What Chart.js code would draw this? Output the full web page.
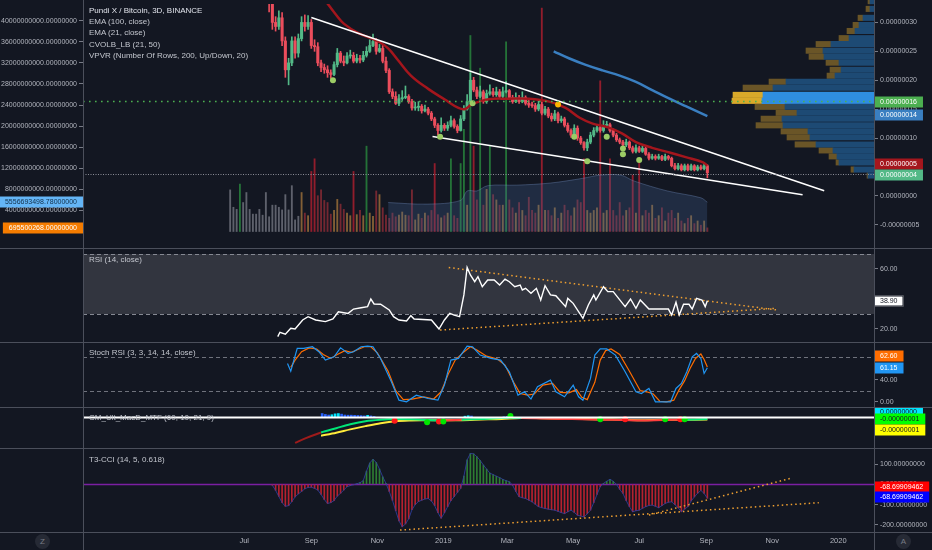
<!DOCTYPE html>
<html><head><meta charset="utf-8">
<script src="https://cdn.jsdelivr.net/npm/chart.js@4.4.1/dist/chart.umd.min.js"></script>
<style>
html,body{margin:0;padding:0;background:#131722;}
body{width:932px;height:550px;position:relative;overflow:hidden;font-family:"Liberation Sans",Arial,sans-serif;}
canvas{position:absolute;left:0;}
.ln{position:absolute;background:#4b4f5b;}
.txt{position:absolute;left:89px;font-size:8px;line-height:10px;color:#c3c6ce;white-space:nowrap;}
.btn{position:absolute;width:15px;height:15px;border-radius:50%;background:#262a35;color:#787b86;font-size:8px;line-height:15px;text-align:center;}
</style></head><body>
<canvas id="cMain" width="932" height="248" style="top:0"></canvas>
<canvas id="cVp" width="932" height="248" style="top:0"></canvas>
<canvas id="cRsi" width="932" height="93" style="top:249px"></canvas>
<canvas id="cSto" width="932" height="64" style="top:343px"></canvas>
<canvas id="cMacd" width="932" height="40" style="top:408px"></canvas>
<canvas id="cCci" width="932" height="101" style="top:449px"></canvas>

<div class="ln" style="left:0;top:248px;width:932px;height:1px"></div>
<div class="ln" style="left:0;top:342px;width:932px;height:1px"></div>
<div class="ln" style="left:0;top:407px;width:932px;height:1px"></div>
<div class="ln" style="left:0;top:448px;width:932px;height:1px"></div>
<div class="ln" style="left:0;top:532px;width:932px;height:1px"></div>
<div class="ln" style="left:83px;top:0;width:1px;height:550px"></div>
<div class="ln" style="left:874px;top:0;width:1px;height:550px"></div>

<div class="txt" style="top:6px;color:#e0e3eb">Pundi X / Bitcoin, 3D, BINANCE</div>
<div class="txt" style="top:17px">EMA (100, close)</div>
<div class="txt" style="top:28px">EMA (21, close)</div>
<div class="txt" style="top:39.5px">CVOLB_LB (21, 50)</div>
<div class="txt" style="top:51px">VPVR (Number Of Rows, 200, Up/Down, 20)</div>
<div class="txt" style="top:255px">RSI (14, close)</div>
<div class="txt" style="top:348px">Stoch RSI (3, 3, 14, 14, close)</div>
<div class="txt" style="top:413px">CM_Ult_MacD_MTF (60, 10, 21, 9)</div>
<div class="txt" style="top:455px">T3-CCI (14, 5, 0.618)</div>
<div class="btn" style="left:35px;top:534px">Z</div>
<div class="btn" style="left:896px;top:534px">A</div>

<script>
// ---------- DATA ----------
const FIRST_DAY = -197;      // first 3D candle, days relative to 1 Jan 2019
const STEP = 3;              // 3-day candles
const FIRST_OPEN = 47;       // prices in satoshi (1e-8 BTC)

const close = [48,46,50,52,49,47,45,43,44,41,
 38,35.5,33.5,30.0,29.3,30.8,26.8,21.8,23.0,26.8,
 24.7,27.2,30.0,29.3,30.0,26.0,25.8,23.0,22.2,21.8,
 21.3,21.0,22.7,24.7,23.3,23.0,24.2,24.3,23.3,23.8,
 23.5,24.3,25.0,26.0,26.7,25.0,25.5,23.3,21.7,18.0,
 17.2,16.0,16.8,17.0,17.2,16.3,15.2,15.3,15.5,14.7,
 15.0,14.3,13.3,12.2,11.3,12.2,11.7,12.2,13.0,12.0,
 11.3,13.3,15.0,16.3,20.0,18.3,17.2,18.0,16.3,17.7,
 18.0,17.5,18.0,17.2,18.0,18.2,17.0,16.3,17.0,16.3,
 17.0,16.0,15.7,15.6,15.0,15.8,14.3,15.0,13.8,13.3,
 14.2,13.0,13.3,12.2,11.3,10.5,11.7,10.0,9.2,8.3,
 9.3,10.5,11.3,11.8,11.3,12.2,12.3,11.3,10.5,9.7,
 9.3,8.8,9.3,8.3,7.7,8.3,7.7,8.2,7.2,6.5,
 6.8,6.5,6.8,6.3,6.8,6.5,5.2,4.7,5.2,4.5,
 5.2,4.5,5.2,4.5,5.0,4.7,5.2,4.0];
const high = [50,49,52,55,53,50,48,46,46,45,
 42,39,36,34,31,32,31.7,27.5,23.8,27.5,
 27.5,28,31,31.3,31.2,30.5,27,26.5,23.5,22.8,
 22.5,21.8,23.2,25.5,25,24.2,24.8,25.2,24.8,24.5,
 24.3,25,25.8,27,28,27.2,26.2,26,24,22,
 18.5,18,17.5,18.2,19,17.5,16.7,16.2,16.3,15.8,
 15.7,15.3,14.6,13.6,12.5,13.5,12.5,12.8,13.8,13.3,
 12.3,13.9,15.6,17.5,21.3,20.5,18.8,19,18.3,18.3,
 19.2,18.6,18.8,18.4,18.8,19.8,18.4,17.4,17.8,17.4,
 18,17.3,16.5,16.2,16,16.5,16.2,15.5,15.3,14.3,
 14.8,14.5,13.8,13.6,12.6,11.6,12.3,12.1,10.3,9.4,
 9.8,11,11.8,12.3,12.2,13,12.9,12.6,11.6,10.8,
 10,9.6,9.8,9.5,8.6,8.8,8.6,8.6,8.4,7.5,
 7.2,7.1,7.2,7,7.2,7,6.7,5.6,5.6,5.5,
 5.5,5.5,5.5,5.4,5.3,5.3,5.5,5.4];
const low = [45,44,45,49,48,46,43,42,42,40,
 37,34.5,31.8,28.8,28.5,28.8,26,20.5,19.2,22.5,
 23.8,24,26.8,28.5,28.8,25.5,25,22.5,21.5,21.2,
 20.5,20.3,20.8,22.3,23,22.5,22.8,23.8,23,23,
 23,23.2,24,24.8,25.8,24.5,24.8,23,21.3,17.7,
 16.8,15.8,15.6,16.5,16.8,16,14.8,14.8,14.7,14.3,
 14.5,14,13,11.8,10.6,11,11.3,11.3,11.9,11.7,
 10.9,11.2,13,14.8,16,18,16.8,17,16,16,
 17.4,17.2,17.2,16.8,17,17.8,16.7,16,16.1,16,
 16.1,15.7,15.3,15.3,14.6,14.7,14,14,13.5,12.9,
 13,12.6,12.7,11.9,11,10.1,10.3,9.6,8.9,7.9,
 7.8,9,10.2,11,11,11,11.8,11,10.2,9.4,
 9,8.5,8.5,8,7.4,7.4,7.5,7.5,7,6.2,
 6.3,6.2,6.3,6.1,6.1,6.2,5,4.5,4.5,4.3,
 4.3,4.3,4.4,4.3,4.3,4.5,4.5,3.1];
// volume in billions
const volume = [7.9,4.6,4.2,9.0,5.5,7.4,4.2,3.3,3.3,4.2,
 3.1,7.4,2.8,5.0,5.0,4.6,4.1,7.0,4.1,8.7,
 2.2,2.9,7.4,3.5,3.0,11.4,13.8,6.8,7.9,5.9,
 5.5,3.3,4.0,6.1,5.2,4.2,3.5,3.0,11.4,3.2,
 4.0,3.0,16.2,3.5,2.9,7.7,7.0,4.5,3.1,2.5,
 3.5,2.8,3.1,3.7,3.1,3.0,7.9,2.2,3.3,2.5,
 3.5,3.0,4.0,12.9,3.2,2.6,3.0,3.5,13.8,3.0,
 2.5,12.9,19.4,5.0,37.2,16.2,6.0,31.0,5.0,8.0,
 16.2,7.0,6.0,5.0,5.0,36.0,6.0,4.5,3.5,5.5,
 4.0,3.0,6.5,4.0,3.5,5.0,42.4,4.0,4.0,3.0,
 4.5,2.5,3.5,5.0,4.0,3.0,4.5,6.0,5.5,13.8,
 4.0,3.5,4.0,4.5,28.6,3.5,4.0,13.8,4.0,3.0,
 5.5,3.0,4.0,4.5,10.7,3.5,13.8,3.0,4.0,3.5,
 5.0,2.5,3.0,4.5,2.0,3.5,4.0,2.5,3.5,2.0,
 1.5,2.5,3.0,1.5,2.0,1.2,2.0,0.695500268];
const cvolb = [[-51,5.5],[-15,5.2],[16,5.9],[22,7.7],[31,7.7],[41,8.7],[68,8.8],[99,9.2],[129,10.1],[145,10.7],[164,10.7],[176,9.6],[207,7.7],[238,6.4],[244,5.55669349878]];
const ema21 = [[-115,35.5],[-106,33.0],[-99,31.3],[-92,29.8],[-79,28.2],[-60,26.7],[-51,25.5],[-42,23.5],[-30,20.8],[-14,18.5],[1,16.7],[14,15.2],[20,15.0],[26,15.8],[42,16.7],[60,16.8],[79,16.8],[98,16.3],[113,15.2],[126,13.5],[138,12.5],[153,11.8],[165,10.8],[178,9.3],[193,8.3],[209,7.5],[224,6.7],[240,5.8],[244,5.2]];
const ema100 = [[102,25.0],[116,23.8],[131,22.7],[147,21.7],[163,20.8],[178,19.7],[193,18.3],[209,16.8],[224,15.5],[244,13.8]];
const dotsGreen = [[-102,20.0],[-3,10.2],[27,16.0],[121,10.2],[133,6.0],[151,10.2],[166,8.2],[166,7.2],[181,6.2]];
const dotsYellow = [[106,15.8]];
const trendUpper = [[-122,30.85],[352,0.87]];
const trendLower = [[-10,10.25],[332,0.2]];
// VPVR rows: [price, up volume, down volume]
const vpvr = [[33.0,4,2],[31.7,4,4],[30.2,11,5],[29.0,15,6],[28.0,19,8],[26.8,25,10],[25.8,43,15],[24.7,51,17],[23.7,50,15],[22.7,35,13],[21.5,33,11],[20.5,39,8],[19.5,88,17],[18.5,101,30],[17.3,111,30],[16.3,112,30],[15.3,89,30],[14.3,77,21],[13.3,92,21],[12.2,91,27],[11.2,66,27],[10.2,64,23],[9.0,58,21],[8.0,41,14],[7.0,37,8],[6.0,35,3],[4.8,20,3],[3.8,6,1]];

const rsi = [[-153,14.9],[-151,17.8],[-146,16.5],[-141,20.5],[-137,20],[-130,26],[-125,28.2],[-118,26],[-109,24.9],[-102,26.7],[-97,31.5],[-88,30.4],[-83,33.3],[-76,34.2],[-70,34.9],[-67,40],[-64,36.7],[-58,36.5],[-50,32.7],[-46,28.2],[-41,26],[-34,25.3],[-30,28.9],[-27,26.7],[-11,26],[-4,20],[1,26],[6,30.4],[10,29.3],[15,28.2],[19,42.7],[22,61],[25,56],[29,51.5],[32,54.9],[36,48.2],[41,52.7],[47,52.7],[52,49.3],[57,53.3],[61,51.5],[66,48.2],[71,49.3],[73,46],[76,47.1],[81,43.8],[86,47.1],[90,39.3],[94,48.9],[99,42.7],[104,42.2],[113,34.9],[115,40.4],[120,37.1],[129,27.1],[134,36],[139,42.7],[141,39.3],[148,48.2],[152,44.9],[157,44.9],[168,34.9],[173,40],[178,33.8],[182,39.3],[190,33.3],[199,33.3],[208,33.3],[211,29.3],[215,37.8],[218,29.3],[222,36.5],[227,36.5],[230,33.3],[234,40.4],[239,39.3],[242,34.9],[244,38.9]];
const rsiTrendUpper = [[5,61],[308,32.7]];
const rsiTrendLower = [[-3,19.3],[308,33.8]];

const stochK = [[-144,69],[-141,55],[-135,96],[-129,96],[-121,99],[-115,90],[-109,75],[-101,81],[-95,97],[-88,87],[-83,90],[-76,99],[-70,100],[-65,99],[-58,78],[-48,36],[-41,3],[-34,0],[-25,12],[-14,6],[-5,3],[1,30],[7,75],[14,78],[22,100],[27,99],[34,84],[44,78],[53,75],[61,54],[69,12],[75,18],[81,5],[87,27],[99,39],[104,18],[112,9],[120,30],[125,9],[129,3],[136,42],[140,84],[145,95],[151,95],[159,84],[168,54],[178,18],[183,15],[190,24],[196,0],[202,0],[210,0],[215,24],[220,33],[225,54],[230,81],[234,87],[238,78],[241,51],[244,61.15]];
const stochD = [[-141,62],[-137,75],[-131,90],[-124,97],[-117,95],[-111,85],[-104,78],[-98,85],[-91,92],[-85,89],[-79,94],[-73,99],[-67,99],[-61,88],[-51,55],[-44,20],[-37,4],[-29,5],[-18,9],[-9,5],[-2,18],[5,52],[11,75],[18,88],[25,99],[31,93],[40,82],[50,77],[57,66],[65,35],[71,15],[78,12],[84,14],[92,30],[101,33],[108,17],[116,16],[123,22],[128,8],[133,4],[140,35],[145,75],[150,92],[155,95],[163,85],[172,55],[182,20],[188,18],[194,14],[200,1],[206,0],[213,3],[218,22],[223,38],[228,60],[233,78],[238,86],[241,76],[244,62.6]];

// MACD values in satoshi
const macdDays = [-137,-127,-113,-99,-86,-72,-58,-44,-30,-20,-2,17,35,54,72,91,110,128,147,165,184,203,221,244];
const macdLine = [-17.4,-14.2,-10.3,-7.4,-4.7,-2.6,-1.6,-1.1,-1.3,-1.6,-2.1,-1.6,-1.1,-0.5,-0.5,-0.8,-1.1,-1.3,-1.6,-1.8,-2.1,-1.8,-1.6,-1.2];
const macdSignal = [null,null,-12.6,-10.5,-8.2,-6.0,-4.0,-2.6,-2.1,-2.0,-2.0,-1.9,-1.5,-1.1,-0.4,-0.6,-0.9,-1.1,-1.4,-1.6,-1.9,-1.7,-1.7,-1.4];
const macdHist = [[-112,2.6],[-109,2.0],[-106,1.6],[-103,1.8],[-100,2.4],[-97,2.6],[-94,2.2],[-91,1.6],[-88,1.5],[-85,1.5],[-82,1.4],[-79,1.3],[-76,1.2],[-73,1.0],[-70,1.4],[-67,1.0],[-64,0.6],[20,0.8],[23,1.1],[26,0.9],[56,0.4],[59,0.5],[62,0.4]];
const macdCrossUp = [[-15,-3.4],[0,-2.9],[62,0.9],[145,-1.3],[205,-1.3],[223,-1.3]];
const macdCrossDown = [[-45,-2.3],[-4,-2.9],[168,-1.3],[219,-1.3]];

const cci = [null,null,null,null,null,null,null,null,null,null,null,null,null,
 -5,-30,-60,-90,-108,-105,-85,
 -62,-47,-35,-22,-15,-14,-20,-28,-50,-75,
 -94,-90,-80,-58,-44,-28,-12,-6,-2,3,
 8,18,65,105,123,108,75,37,5,-35,
 -79,-130,-180,-209,-195,-170,-125,-100,-85,-78,
 -72,-70,-82,-105,-140,-167,-140,-110,-80,-61,
 -40,-20,40,120,152,150,136,118,95,75,
 55,48,40,33,24,18,13,-5,-35,-61,
 -66,-70,-78,-86,-98,-110,-115,-119,-122,-125,
 -127,-133,-139,-144,-135,-127,-138,-152,-156,-160,
 -145,-127,-90,-50,-12,5,15,25,15,0,
 -25,-45,-80,-110,-135,-130,-127,-118,-110,-104,
 -102,-108,-115,-105,-94,-88,-86,-100,-115,-135,
 -122,-110,-82,-62,-44,-30,-45,-68.69909462];
const cciTrend1 = [[-40,-225],[347,-90.5]];
const cciTrend2 = [[190,-151],[322,31]];

const monthTicks = [-184,-122,-61,0,59,120,181,243,304,365];
const monthLabels = ['Jul','Sep','Nov','2019','Mar','May','Jul','Sep','Nov','2020'];
const priceTicks = [-5,0,5,10,15,20,25,30];
const volTicks = [4,8,12,16,20,24,28,32,36,40];
const rsiTicks = [20,40,60];
const stochTicks = [0,40,80];
const macdTicks = [0,-10];
const cciTicks = [100,0,-100,-200];

// ---------- HELPERS ----------
const FONT = '"Liberation Sans", Arial, sans-serif';
Chart.defaults.font.family = FONT;
Chart.defaults.color = '#b2b5be';
const X_MIN = -333, X_MAX = 398;
const P_MIN = -8.34, P_MAX = 33.19, V_MIN = -2.37, V_MAX = 43.18;
const UP = '#53b987', DN = '#eb4d5c';
const dayOf = i => FIRST_DAY + STEP * i;
const openOf = i => i === 0 ? FIRST_OPEN : close[i - 1];
const isUp = i => close[i] >= openOf(i);
const pts = arr => arr.map(([x, y]) => ({x, y}));
const fmtPrice = v => (v * 1e-8).toFixed(8);
const fmtVol = v => (Math.round(v * 1e11) / 100).toFixed(2) + '000000';
const candleColor = c => (c.dataIndex == null) ? UP : (isUp(c.dataIndex) ? UP : DN);
function volColor(c) {
  const i = c.dataIndex; if (i == null) return '#787b86';
  const v = volume[i], up = isUp(i);
  if (v >= 9) return up ? 'rgba(40,130,60,0.85)' : 'rgba(160,30,45,0.9)';
  if (i < 22) return 'rgba(120,123,134,0.75)';
  return up ? 'rgba(170,120,60,0.75)' : 'rgba(150,45,55,0.75)';
}
function yAxis(min, max, ticks, fmt, pos, width) {
  return {
    type: 'linear', position: pos, min, max, offset: false, bounds: 'data',
    afterBuildTicks: s => { s.ticks = ticks.map(v => ({value: v})); },
    afterFit: s => { s.width = width; s.paddingTop = 0; s.paddingBottom = 0; },
    ticks: {callback: v => fmt(v), color: '#b2b5be', font: {size: 7}, padding: 2, autoSkip: false, maxRotation: 0},
    grid: {display: true, drawOnChartArea: false, drawTicks: true, tickLength: 4, tickColor: '#787b86', color: 'transparent'},
    border: {display: false}
  };
}
const xHidden = () => ({type: 'linear', min: X_MIN, max: X_MAX, display: false, offset: false, bounds: 'data', grid: {offset: false}});
const common = (padLeft) => ({
  responsive: false, animation: false, events: [],
  layout: {padding: {left: padLeft, right: 0, top: 0, bottom: 0}},
  plugins: {legend: {display: false}, tooltip: {enabled: false}}
});

// decorations: bands, horizontal lines and value flags
const decoCfg = {};
function drawH(chart, h) {
  const ctx = chart.ctx, a = chart.chartArea, s = chart.scales[h.scale];
  const y = Math.round(s.getPixelForValue(h.value)) + 0.5;
  ctx.save(); ctx.strokeStyle = h.color; ctx.lineWidth = h.width || 1; ctx.setLineDash(h.dash || []);
  ctx.beginPath(); ctx.moveTo(a.left, y); ctx.lineTo(a.right, y); ctx.stroke(); ctx.restore();
}
function drawFlag(chart, f) {
  const ctx = chart.ctx, a = chart.chartArea, s = chart.scales[f.scale];
  const yc = Math.round(s.getPixelForValue(f.value) + (f.dy || 0));
  ctx.save(); ctx.font = '7px ' + FONT;
  const w = ctx.measureText(f.text).width + 12, h = 11;
  const x0 = f.side === 'left' ? a.left - w : a.right;
  ctx.fillStyle = f.bg; ctx.fillRect(x0, yc - h / 2, w, h);
  if (f.border) { ctx.strokeStyle = f.border; ctx.lineWidth = 1; ctx.strokeRect(x0 + 0.5, yc - h / 2 + 0.5, w - 1, h - 1); }
  ctx.fillStyle = f.fg; ctx.textBaseline = 'middle'; ctx.textAlign = 'left';
  ctx.fillText(f.text, x0 + 6, yc + 0.5);
  ctx.restore();
}
Chart.register({
  id: 'deco',
  beforeDatasetsDraw(chart) {
    const o = decoCfg[chart.canvas.id] || {}, ctx = chart.ctx, a = chart.chartArea;
    (o.bands || []).forEach(b => {
      const s = chart.scales[b.scale], y1 = s.getPixelForValue(b.to), y2 = s.getPixelForValue(b.from);
      ctx.save(); ctx.fillStyle = b.color; ctx.fillRect(a.left, y1, a.right - a.left, y2 - y1); ctx.restore();
    });
    (o.under || []).forEach(h => drawH(chart, h));
  },
  afterDatasetsDraw(chart) { const o = decoCfg[chart.canvas.id] || {}; (o.over || []).forEach(h => drawH(chart, h)); },
  afterDraw(chart) { const o = decoCfg[chart.canvas.id] || {}; (o.flags || []).forEach(f => drawFlag(chart, f)); }
});

// ---------- MAIN PANE ----------
const vpTotals = vpvr.map(r => r[1] + r[2]);
const vpMax = Math.max(...vpTotals);
const pocPrice = vpvr[vpTotals.indexOf(vpMax)][0];
const lastClose = close[close.length - 1];
const last = a => a[a.length - 1];

decoCfg.cMain = {flags: [
  {scale: 'yP', value: pocPrice, text: fmtPrice(pocPrice), bg: '#4caf50', fg: '#ffffff'},
  {scale: 'yP', value: last(ema100)[1], text: fmtPrice(last(ema100)[1]), bg: '#3a7fc1', fg: '#ffffff', dy: -1.5},
  {scale: 'yP', value: last(ema21)[1], text: fmtPrice(last(ema21)[1]), bg: '#a4161d', fg: '#ffffff', dy: -2},
  {scale: 'yP', value: lastClose, text: fmtPrice(lastClose), bg: '#53b987', fg: '#ffffff', dy: 2},
  {scale: 'yV', value: last(cvolb)[1], text: fmtVol(last(cvolb)[1]), bg: '#64b5f6', fg: '#123049', side: 'left'},
  {scale: 'yV', value: last(volume), text: fmtVol(last(volume)), bg: '#f57c00', fg: '#ffffff', side: 'left'}
]};

new Chart(document.getElementById('cMain'), {
  type: 'bar',
  data: {datasets: [
    {type: 'bar', yAxisID: 'yV', data: volume.map((v, i) => ({x: dayOf(i), y: v})), backgroundColor: volColor, barThickness: 1.2, grouped: false, order: 10},
    {type: 'line', yAxisID: 'yV', data: pts(cvolb), fill: 'origin', backgroundColor: 'rgba(70,100,150,0.28)', borderColor: 'rgba(120,150,200,0.35)', borderWidth: 1, pointRadius: 0, tension: 0.35, order: 9},
    {type: 'bar', yAxisID: 'yP', data: close.map((c, i) => ({x: dayOf(i), y: [low[i], high[i]]})), backgroundColor: candleColor, barThickness: 1, grouped: false, order: 6},
    {type: 'bar', yAxisID: 'yP', data: close.map((c, i) => ({x: dayOf(i), y: [openOf(i), c]})), backgroundColor: candleColor, barThickness: 2.4, minBarLength: 1, grouped: false, order: 5},
    {type: 'line', yAxisID: 'yP', data: pts(ema100), borderColor: '#3a7fc1', borderWidth: 2.5, pointRadius: 0, tension: 0.4, order: 4},
    {type: 'line', yAxisID: 'yP', data: pts(ema21), borderColor: '#a4161d', borderWidth: 2.5, pointRadius: 0, tension: 0.4, order: 3},
    {type: 'line', yAxisID: 'yP', data: pts(trendUpper), borderColor: '#ffffff', borderWidth: 1.5, pointRadius: 0, order: 2},
    {type: 'line', yAxisID: 'yP', data: pts(trendLower), borderColor: '#ffffff', borderWidth: 1.5, pointRadius: 0, order: 2},
    {type: 'line', yAxisID: 'yP', data: pts(dotsGreen), showLine: false, pointRadius: 3, pointBackgroundColor: '#9ccc65', pointBorderWidth: 0, order: 1},
    {type: 'line', yAxisID: 'yP', data: pts(dotsYellow), showLine: false, pointRadius: 3, pointBackgroundColor: '#ffb300', pointBorderWidth: 0, order: 1}
  ]},
  options: Object.assign(common(0), {scales: {
    x: xHidden(),
    yV: yAxis(V_MIN, V_MAX, volTicks, fmtVol, 'left', 83),
    yP: yAxis(P_MIN, P_MAX, priceTicks, fmtPrice, 'right', 58)
  }})
});

// ---------- VPVR OVERLAY ----------
decoCfg.cVp = {over: [
  {scale: 'y', value: pocPrice, color: '#4caf50', width: 1.6, dash: [1.6, 4.4]},
  {scale: 'y', value: lastClose, color: '#8a8d96', width: 1, dash: [1, 1.5]}
]};
const hot = i => vpTotals[i] >= 0.97 * vpMax;
new Chart(document.getElementById('cVp'), {
  type: 'bar',
  data: {datasets: [
    {data: vpvr.map(r => ({x: r[1], y: r[0]})), backgroundColor: c => hot(c.dataIndex) ? '#2f8ee0' : '#1d4a74', barThickness: 5.4, stack: 'vp'},
    {data: vpvr.map(r => ({x: r[2], y: r[0]})), backgroundColor: c => hot(c.dataIndex) ? '#d9a92a' : '#6a5527', barThickness: 5.4, stack: 'vp'}
  ]},
  options: Object.assign(common(83), {
    indexAxis: 'y',
    layout: {padding: {left: 83, right: 58, top: 0, bottom: 0}},
    scales: {
      x: {type: 'linear', reverse: true, min: 0, max: 791, display: false, stacked: true, offset: false, bounds: 'data'},
      y: {type: 'linear', min: P_MIN, max: P_MAX, display: false, stacked: true, offset: false, bounds: 'data', grid: {offset: false}}
    }
  })
});

// ---------- RSI ----------
decoCfg.cRsi = {
  bands: [{scale: 'y', from: 30, to: 70, color: '#32353f'}],
  under: [{scale: 'y', value: 70, color: '#868993', dash: [4, 3]}, {scale: 'y', value: 30, color: '#868993', dash: [4, 3]}],
  flags: [{scale: 'y', value: last(rsi)[1], text: last(rsi)[1].toFixed(2), bg: '#ffffff', fg: '#131722', border: '#131722'}]
};
new Chart(document.getElementById('cRsi'), {
  type: 'line',
  data: {datasets: [
    {data: pts(rsi), borderColor: '#ffffff', borderWidth: 1.4, pointRadius: 0},
    {data: pts(rsiTrendUpper), borderColor: '#f0a030', borderWidth: 1.5, borderDash: [1.5, 3], pointRadius: 0},
    {data: pts(rsiTrendLower), borderColor: '#f0a030', borderWidth: 1.5, borderDash: [1.5, 3], pointRadius: 0}
  ]},
  options: Object.assign(common(83), {scales: {x: xHidden(), y: yAxis(11.33, 73.33, rsiTicks, v => v.toFixed(2), 'right', 58)}})
});

// ---------- STOCH RSI ----------
decoCfg.cSto = {
  under: [{scale: 'y', value: 80, color: '#6f727c', dash: [4, 3]}, {scale: 'y', value: 20, color: '#6f727c', dash: [4, 3]}],
  flags: [
    {scale: 'y', value: last(stochD)[1], text: last(stochD)[1].toFixed(2), bg: '#ff6d00', fg: '#ffffff', dy: -11.3},
    {scale: 'y', value: last(stochK)[1], text: last(stochK)[1].toFixed(2), bg: '#2196f3', fg: '#ffffff'}
  ]
};
new Chart(document.getElementById('cSto'), {
  type: 'line',
  data: {datasets: [
    {data: pts(stochK), borderColor: '#2196f3', borderWidth: 1.2, pointRadius: 0},
    {data: pts(stochD), borderColor: '#ff6d00', borderWidth: 1.2, pointRadius: 0}
  ]},
  options: Object.assign(common(83), {scales: {x: xHidden(), y: yAxis(-9.3, 105.7, stochTicks, v => v.toFixed(2), 'right', 58)}})
});

// ---------- MACD ----------
const lastHist = last(macdLine) - last(macdSignal);
decoCfg.cMacd = {
  over: [{scale: 'y', value: 0, color: '#ffffff', width: 2}],
  flags: [
    {scale: 'y', value: lastHist, text: fmtPrice(lastHist), bg: '#00e5ff', fg: '#131722', dy: -5.3},
    {scale: 'y', value: last(macdLine), text: fmtPrice(last(macdLine)), bg: '#00ff00', fg: '#131722'},
    {scale: 'y', value: last(macdSignal), text: fmtPrice(last(macdSignal)), bg: '#ffff00', fg: '#131722', dy: 10.5}
  ]
};
new Chart(document.getElementById('cMacd'), {
  type: 'bar',
  data: {datasets: [
    {type: 'bar', data: pts(macdHist), barThickness: 2, grouped: false, order: 5,
     backgroundColor: c => { const i = c.dataIndex; if (i == null) return '#2962ff'; return (i > 0 && macdHist[i][1] > macdHist[i - 1][1]) ? '#00e5ff' : '#2962ff'; }},
    {type: 'line', data: macdDays.map((d, i) => ({x: d, y: macdSignal[i]})), borderColor: '#ffeb3b', borderWidth: 2, pointRadius: 0, tension: 0.3, order: 3},
    {type: 'line', data: macdDays.map((d, i) => ({x: d, y: macdLine[i]})), borderWidth: 2, pointRadius: 0, tension: 0.3, order: 2, borderColor: '#00e676',
     segment: {borderColor: c => { const i = c.p0DataIndex, s = macdSignal[i]; if (s == null) return '#9e1b1b'; return macdLine[i] >= s ? '#00e676' : '#ff3d3d'; }}},
    {type: 'line', data: pts(macdCrossUp), showLine: false, pointRadius: 3, pointBackgroundColor: '#00e600', pointBorderWidth: 0, order: 1},
    {type: 'line', data: pts(macdCrossDown), showLine: false, pointRadius: 3, pointBackgroundColor: '#ff1a1a', pointBorderWidth: 0, order: 1}
  ]},
  options: Object.assign(common(83), {scales: {x: xHidden(), y: yAxis(-18.2, 3.66, macdTicks, fmtPrice, 'right', 58)}})
});

// ---------- T3-CCI ----------
decoCfg.cCci = {
  under: [{scale: 'y', value: 0, color: '#7b1fa2', width: 1.5}],
  flags: [
    {scale: 'y', value: last(cci), text: last(cci).toFixed(8), bg: '#ff0000', fg: '#ffffff', dy: -11.6},
    {scale: 'y', value: last(cci), text: last(cci).toFixed(8), bg: '#0000ff', fg: '#ffffff', dy: -1}
  ]
};
const cciPts = [];
cci.forEach((v, i) => { if (v != null) cciPts.push({x: dayOf(i), y: v}); });
new Chart(document.getElementById('cCci'), {
  type: 'bar',
  data: {datasets: [
    {type: 'bar', data: cciPts, barThickness: 1, grouped: false, order: 5,
     backgroundColor: c => (c.raw && c.raw.y >= 0) ? '#2e7d32' : '#b5212f'},
    {type: 'line', data: cciPts, borderColor: 'rgba(48,63,159,0.85)', borderWidth: 1, pointRadius: 0, order: 4},
    {type: 'line', data: pts(cciTrend1), borderColor: '#f0a030', borderWidth: 1.5, borderDash: [1.5, 3], pointRadius: 0, order: 1},
    {type: 'line', data: pts(cciTrend2), borderColor: '#f0a030', borderWidth: 1.5, borderDash: [1.5, 3], pointRadius: 0, order: 1}
  ]},
  options: Object.assign(common(83), {scales: {
    x: {type: 'linear', min: X_MIN, max: X_MAX, offset: false, bounds: 'data', position: 'bottom',
        afterBuildTicks: s => { s.ticks = monthTicks.map(v => ({value: v})); },
        afterFit: s => { s.height = 18; s.paddingLeft = 0; s.paddingRight = 0; },
        ticks: {callback: (v, i) => monthLabels[i], color: '#b2b5be', font: {size: 7.5}, padding: 4, autoSkip: false, maxRotation: 0, minRotation: 0},
        grid: {display: false, drawTicks: false, offset: false}, border: {display: false}},
    y: yAxis(-234.5, 173.8, cciTicks, v => v.toFixed(8), 'right', 58)
  }})
});
</script>
</body></html>
